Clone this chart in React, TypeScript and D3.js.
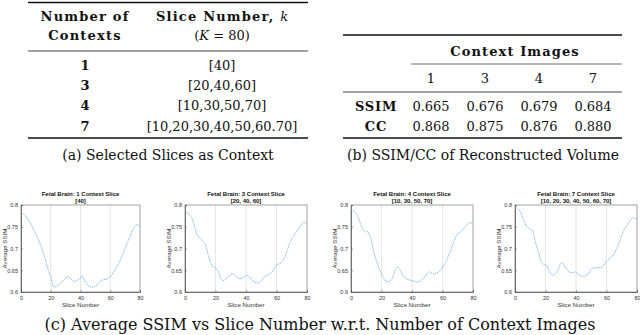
import React, { useEffect, useRef } from "react";
import * as d3 from "d3";

const W = 640,
  H = 335;
const serif = "'DejaVu Serif', serif";
const sans = "'Liberation Sans', Arial, sans-serif";

// table (a)
const contextCounts = ["1", "3", "4", "7"];
const sliceSets = ["[40]", "[20,40,60]", "[10,30,50,70]", "[10,20,30,40,50,60.70]"];

// table (b)
const imageCounts = ["1", "3", "4", "7"];
const ssimScores = ["0.665", "0.676", "0.679", "0.684"];
const ccScores = ["0.868", "0.875", "0.876", "0.880"];

// charts (c)
const chartTitles = [
  "Fetal Brain: 1 Context Slice",
  "Fetal Brain: 3 Context Slice",
  "Fetal Brain: 4 Context Slice",
  "Fetal Brain: 7 Context Slice",
];
const chartSubtitles = ["[40]", "[20, 40, 60]", "[10, 30, 50, 70]", "[10, 20, 30, 40, 50, 60, 70]"];
const xTicks = [0, 20, 40, 60, 80];
const yTicks = [0.6, 0.65, 0.7, 0.75, 0.8];
const gridTicks = [20, 40, 60];

const slices1 = [0, 3, 6, 9, 12, 15, 18, 20, 22, 24, 27, 30, 32, 34, 36, 38, 40, 41, 43, 45, 48, 50, 52, 55, 58, 61, 64, 67, 70, 73, 76, 78, 80];
const ssim1 = [0.785, 0.775, 0.76, 0.74, 0.718, 0.69, 0.655, 0.635, 0.612, 0.613, 0.622, 0.632, 0.635, 0.628, 0.624, 0.628, 0.633, 0.637, 0.625, 0.615, 0.611, 0.613, 0.62, 0.628, 0.63, 0.64, 0.655, 0.675, 0.7, 0.725, 0.748, 0.755, 0.75];

const slices3 = [0, 4, 8, 10, 13, 15, 17.5, 21, 24, 26, 28, 31, 33, 35, 37, 40.5, 42, 44, 47, 49, 52.5, 55, 57, 60, 62, 65, 67, 69, 71, 73, 75, 77, 78, 80];
const ssim3 = [0.788, 0.773, 0.731, 0.723, 0.712, 0.688, 0.662, 0.652, 0.628, 0.627, 0.634, 0.642, 0.637, 0.631, 0.631, 0.638, 0.635, 0.627, 0.621, 0.622, 0.636, 0.641, 0.646, 0.662, 0.665, 0.677, 0.695, 0.715, 0.728, 0.738, 0.748, 0.758, 0.76, 0.756];

const slices4 = [0, 4, 7, 9.5, 11, 12.7, 15, 18, 21, 23.5, 25, 27, 29, 30.5, 32, 34.5, 38, 41, 44, 47.5, 51, 54, 57.5, 61, 65, 69.5, 73, 75, 77, 78, 80];
const ssim4 = [0.792, 0.777, 0.75, 0.738, 0.739, 0.727, 0.692, 0.658, 0.635, 0.623, 0.625, 0.631, 0.65, 0.658, 0.652, 0.635, 0.628, 0.625, 0.623, 0.631, 0.646, 0.642, 0.646, 0.662, 0.692, 0.731, 0.742, 0.75, 0.758, 0.76, 0.756];

const slices7 = [0, 3.3, 5.5, 7.7, 10, 11.4, 13, 15.4, 17.5, 19.7, 21, 23, 25, 27.4, 30.7, 33, 35, 37, 39.5, 41.7, 45, 48, 50.4, 53.7, 57, 60, 63.6, 68, 71, 74.6, 77.4, 80];
const ssim7 = [0.798, 0.786, 0.767, 0.751, 0.744, 0.742, 0.719, 0.691, 0.667, 0.662, 0.66, 0.644, 0.638, 0.646, 0.667, 0.657, 0.648, 0.644, 0.646, 0.64, 0.636, 0.641, 0.654, 0.656, 0.657, 0.671, 0.681, 0.711, 0.739, 0.759, 0.771, 0.765];

const chartSlices = [slices1, slices3, slices4, slices7];
const chartSsim = [ssim1, ssim3, ssim4, ssim7];

// plot boxes (left, right) in px
const plotSpans = [
  [21, 140],
  [185, 307],
  [351, 473],
  [515, 637],
];
const plotTop = 205,
  plotBottom = 292;

function rule(svg, x1, x2, y, w) {
  svg
    .append("line")
    .attr("x1", x1)
    .attr("x2", x2)
    .attr("y1", y)
    .attr("y2", y)
    .attr("stroke", "#111")
    .attr("stroke-width", w);
}

function label(svg, x, y, text, opts: any = {}) {
  return svg
    .append("text")
    .attr("x", x)
    .attr("y", y)
    .attr("text-anchor", opts.anchor || "middle")
    .style("font-family", opts.family || serif)
    .style("font-size", (opts.size || 13) + "px")
    .style("font-weight", opts.bold ? "bold" : "normal")
    .style("letter-spacing", opts.spacing ? opts.spacing + "px" : null)
    .style("fill", opts.fill || "#111")
    .text(text);
}

function drawTableA(svg) {
  rule(svg, 28, 308, 2.5, 1.3);
  label(svg, 85, 21, "Number of", { bold: true, spacing: 1.2 });
  label(svg, 85, 40, "Contexts", { bold: true, spacing: 1.2 });

  const head = label(svg, 222, 21, "", {});
  head.append("tspan").style("font-weight", "bold").style("letter-spacing", "1.2px").text("Slice Number, ");
  head.append("tspan").style("font-style", "italic").text("k");
  const sub = label(svg, 222, 40, "", {});
  sub.append("tspan").text("(");
  sub.append("tspan").style("font-style", "italic").text("K");
  sub.append("tspan").text(" = 80)");

  rule(svg, 28, 308, 51, 0.8);

  const rowY = d3.scalePoint().domain(contextCounts).range([69.5, 130.5]);
  contextCounts.forEach((c, i) => {
    label(svg, 85, rowY(c), c, { bold: true });
    label(svg, 222, rowY(c), sliceSets[i], {});
  });

  rule(svg, 28, 308, 138, 1.3);
  label(svg, 168, 160, "(a) Selected Slices as Context", { size: 14 });
}

function drawTableB(svg) {
  rule(svg, 343, 622, 35, 1.3);
  label(svg, 515, 55.5, "Context Images", { bold: true, spacing: 1.1 });
  rule(svg, 411, 622, 64, 0.6);

  const colX = d3.scalePoint().domain(imageCounts).range([431, 593]);
  imageCounts.forEach((c) => label(svg, colX(c), 82.5, c, {}));

  rule(svg, 343, 622, 92, 0.8);

  label(svg, 376, 110.5, "SSIM", { bold: true, spacing: 0.8 });
  label(svg, 376, 130.5, "CC", { bold: true, spacing: 0.8 });
  imageCounts.forEach((c, i) => {
    label(svg, colX(c), 110.5, ssimScores[i], {});
    label(svg, colX(c), 130.5, ccScores[i], {});
  });

  rule(svg, 343, 622, 138, 1.3);
  label(svg, 483, 160, "(b) SSIM/CC of Reconstructed Volume", { size: 14 });
}

function drawChart(svg, i) {
  const [left, right] = plotSpans[i];
  const x = d3.scaleLinear().domain([0, 80]).range([left, right]);
  const y = d3.scaleLinear().domain([0.6, 0.8]).range([plotBottom, plotTop]);
  const g = svg.append("g");

  // GRID
  g.selectAll(".grid")
    .data(gridTicks)
    .enter()
    .append("line")
    .attr("x1", (d) => x(d))
    .attr("x2", (d) => x(d))
    .attr("y1", plotTop)
    .attr("y2", plotBottom)
    .attr("stroke", "#d4d4d4")
    .attr("stroke-width", 0.6);

  // BOX
  g.append("rect")
    .attr("x", left)
    .attr("y", plotTop)
    .attr("width", right - left)
    .attr("height", plotBottom - plotTop)
    .attr("fill", "none")
    .attr("stroke", "#8a8a8a")
    .attr("stroke-width", 0.8);

  const xAxis = g
    .append("g")
    .attr("transform", "translate(0," + plotBottom + ")")
    .call(d3.axisBottom(x).tickValues(xTicks).tickSize(-2).tickPadding(4).tickFormat(d3.format("d")));
  const yAxis = g
    .append("g")
    .attr("transform", "translate(" + left + ",0)")
    .call(d3.axisLeft(y).tickValues(yTicks).tickSize(-2).tickPadding(3).tickFormat((d) => String(d)));
  [xAxis, yAxis].forEach((a) => {
    a.select(".domain").attr("stroke", "#555").attr("stroke-width", 0.8);
    a.selectAll(".tick line").attr("stroke", "#555").attr("stroke-width", 0.5);
    a.selectAll(".tick text")
      .style("font-family", sans)
      .style("font-size", "5.5px")
      .style("fill", "#333");
  });

  // SSIM CURVE
  const pts = chartSlices[i].map((s, j) => [s, chartSsim[i][j]]);
  g.append("path")
    .datum(pts)
    .attr("fill", "none")
    .attr("stroke", "#6fb1e6")
    .attr("stroke-width", 0.9)
    .attr("stroke-dasharray", "1.3,0.8")
    .attr(
      "d",
      d3
        .line()
        .curve(d3.curveCatmullRom)
        .x((d) => x(d[0]))
        .y((d) => y(d[1]))
    );

  const cx = (left + right) / 2;
  label(g, cx, 196, chartTitles[i], { family: sans, size: 6, bold: true });
  label(g, cx, 202.5, chartSubtitles[i], { family: sans, size: 6, bold: true });
  label(g, cx, 307, "Slice Number", { family: sans, size: 6.2, fill: "#333" });
  label(g, 0, 0, "Average SSIM", { family: sans, size: 6.2, fill: "#333" }).attr(
    "transform",
    "translate(" + (left - 14) + "," + (plotTop + plotBottom) / 2 + ") rotate(-90)"
  );
}

export default function App() {
  const ref = useRef(null);

  useEffect(() => {
    const svg = d3.select(ref.current);
    svg.selectAll("*").remove();
    svg.append("rect").attr("width", W).attr("height", H).attr("fill", "#fff");
    drawTableA(svg);
    drawTableB(svg);
    plotSpans.forEach((_, i) => drawChart(svg, i));
    label(svg, 320, 330, "(c) Average SSIM vs Slice Number w.r.t. Number of Context Images", { size: 16 });
  }, []);

  return <svg ref={ref} width={W} height={H} style={{ position: "absolute", left: 0, top: 0 }} />;
}
